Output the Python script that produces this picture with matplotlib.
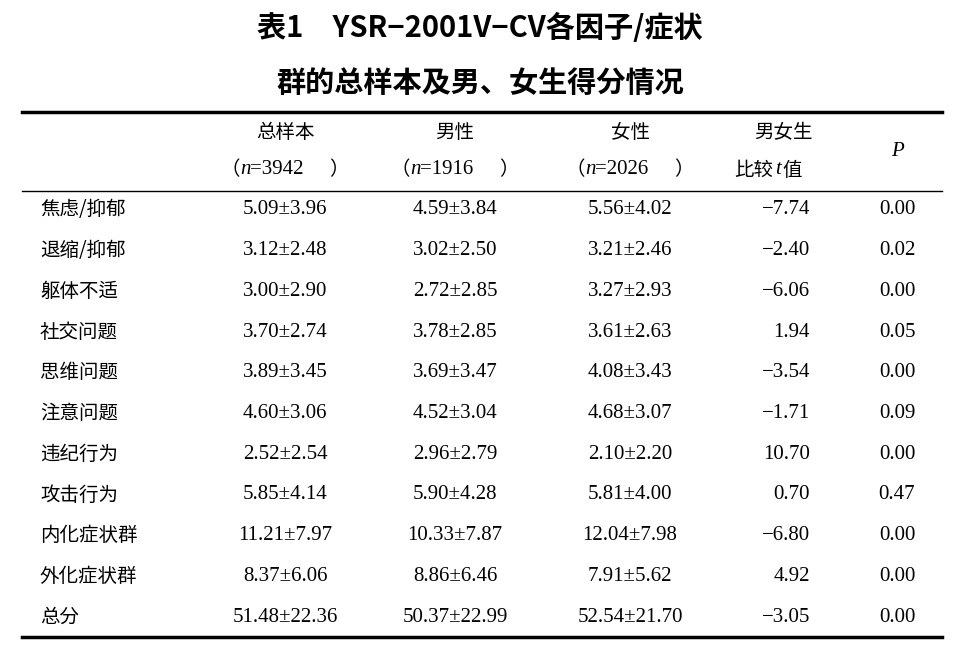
import matplotlib
matplotlib.use("Agg")
import matplotlib.pyplot as plt
from matplotlib import font_manager as fm

plt.rcParams["mathtext.fontset"] = "custom"
plt.rcParams["mathtext.it"] = "Liberation Serif:italic"
plt.rcParams["mathtext.rm"] = "Liberation Serif"

# find an installed CJK font
cjk = [f for f in fm.fontManager.ttflist if "CJK" in f.name]
cjk.sort(key=lambda f: (" SC" not in f.name, f.weight != 400))
cjk_name = cjk[0].name if cjk else "DejaVu Sans"
fonts = ["Liberation Serif", cjk_name]

title1 = "表1　YSR−2001V−CV各因子/症状"
title2 = "群的总样本及男、女生得分情况"

rows = ["焦虑/抑郁", "退缩/抑郁", "躯体不适", "社交问题", "思维问题", "注意问题",
        "违纪行为", "攻击行为", "内化症状群", "外化症状群", "总分"]
total = ["5.09±3.96", "3.12±2.48", "3.00±2.90", "3.70±2.74", "3.89±3.45", "4.60±3.06",
         "2.52±2.54", "5.85±4.14", "11.21±7.97", "8.37±6.06", "51.48±22.36"]
male = ["4.59±3.84", "3.02±2.50", "2.72±2.85", "3.78±2.85", "3.69±3.47", "4.52±3.04",
        "2.96±2.79", "5.90±4.28", "10.33±7.87", "8.86±6.46", "50.37±22.99"]
female = ["5.56±4.02", "3.21±2.46", "3.27±2.93", "3.61±2.63", "4.08±3.43", "4.68±3.07",
          "2.10±2.20", "5.81±4.00", "12.04±7.98", "7.91±5.62", "52.54±21.70"]
t_vals = ["−7.74", "−2.40", "−6.06", "1.94", "−3.54", "−1.71", "10.70", "0.70", "−6.80", "4.92", "−3.05"]
p_vals = ["0.00", "0.02", "0.00", "0.05", "0.00", "0.09", "0.00", "0.47", "0.00", "0.00", "0.00"]
n_vals = ["3942", "1916", "2026"]

W, H = 960, 655
fig = plt.figure(figsize=(9.6, 6.55), dpi=100)
ax = fig.add_axes([0, 0, 1, 1])
ax.set_xlim(0, W)
ax.set_ylim(H, 0)
ax.axis("off")

def txt(x, y, s, ha="center", size=15, fam=None, **kw):
    ax.text(x, y, s, ha=ha, va="center", fontsize=size, family=fam or fonts, **kw)

txt(480, 28, title1, size=21, fam=[cjk_name], weight="bold")
txt(480, 83, title2, size=21, fam=[cjk_name], weight="bold")

ax.plot([22, 942], [112, 112], color="black", lw=2.5)
ax.plot([22, 942], [191, 191], color="black", lw=1.0)
ax.plot([22, 942], [637, 637], color="black", lw=2.5)

cx = [285, 455, 630]
for x, lab, n in zip(cx, ["总样本", "男性", "女性"], n_vals):
    txt(x, 133, lab, fam=[cjk_name], size=14)
    txt(x - 45, 170, "（", fam=[cjk_name], size=14, ha="right")
    txt(x - 45, 170, "n", ha="left", style="italic")
    txt(x - 35, 170, "=" + n, ha="left")
    txt(x + 44, 170, "）", fam=[cjk_name], size=14, ha="left")
txt(783, 133, "男女生", fam=[cjk_name], size=14)
txt(773, 170, "比较", fam=[cjk_name], size=14, ha="right")
txt(775, 170, "t", ha="left", style="italic")
txt(782, 170, "值", fam=[cjk_name], size=14, ha="left")
txt(897, 152, "P", style="italic")

y0, dy = 210, 40.7
for i in range(len(rows)):
    y = y0 + i * dy
    txt(40, y, rows[i], ha="left", fam=[cjk_name], size=14)
    txt(cx[0], y, total[i])
    txt(cx[1], y, male[i])
    txt(cx[2], y, female[i])
    txt(810, y, t_vals[i], ha="right")
    txt(897, y, p_vals[i])

fig.savefig("out.png", dpi=100)
